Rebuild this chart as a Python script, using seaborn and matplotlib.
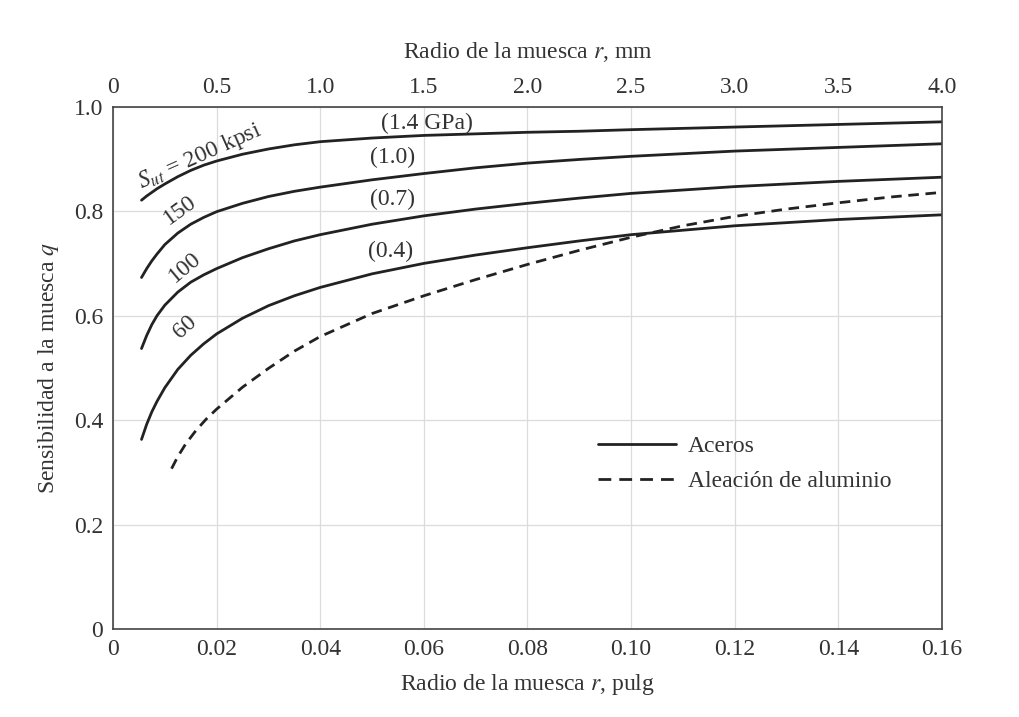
import numpy as np
import pandas as pd
import matplotlib
matplotlib.use("Agg")
import matplotlib.pyplot as plt
import seaborn as sns
from matplotlib.lines import Line2D

# =========================
# DATA
# =========================

r_steel = [0.0055, 0.0065, 0.0075, 0.0085, 0.01, 0.0125, 0.015, 0.0175, 0.02, 0.025, 0.03,
           0.035, 0.04, 0.05, 0.06, 0.07, 0.08, 0.09, 0.10, 0.12, 0.14, 0.16]

q_200 = [0.821, 0.829, 0.836, 0.843, 0.852, 0.866, 0.878, 0.888, 0.896, 0.909, 0.919,
         0.927, 0.933, 0.940, 0.945, 0.948, 0.951, 0.953, 0.956, 0.961, 0.966, 0.971]

q_150 = [0.673, 0.690, 0.705, 0.718, 0.736, 0.758, 0.775, 0.788, 0.799, 0.815, 0.828,
         0.838, 0.846, 0.860, 0.872, 0.883, 0.892, 0.899, 0.905, 0.915, 0.922, 0.929]

q_100 = [0.537, 0.562, 0.583, 0.600, 0.620, 0.645, 0.664, 0.678, 0.690, 0.711, 0.728,
         0.743, 0.755, 0.775, 0.791, 0.804, 0.815, 0.825, 0.834, 0.847, 0.857, 0.865]

q_60 = [0.363, 0.392, 0.416, 0.436, 0.462, 0.497, 0.524, 0.546, 0.565, 0.595, 0.619,
        0.638, 0.654, 0.680, 0.700, 0.716, 0.730, 0.743, 0.755, 0.772, 0.784, 0.793]

r_al = [0.0113, 0.0125, 0.014, 0.016, 0.018, 0.02, 0.025, 0.03, 0.035, 0.04, 0.05,
        0.06, 0.07, 0.08, 0.09, 0.10, 0.11, 0.12, 0.13, 0.14, 0.15, 0.16]
q_al = [0.307, 0.330, 0.354, 0.380, 0.402, 0.421, 0.463, 0.499, 0.532, 0.560, 0.604,
        0.638, 0.669, 0.698, 0.725, 0.750, 0.772, 0.790, 0.804, 0.816, 0.827, 0.836]

x_ticks_in = [0, 0.02, 0.04, 0.06, 0.08, 0.10, 0.12, 0.14, 0.16]
x_labels_in = ["0", "0.02", "0.04", "0.06", "0.08", "0.10", "0.12", "0.14", "0.16"]
x_ticks_mm = [0, 0.5, 1.0, 1.5, 2.0, 2.5, 3.0, 3.5, 4.0]
x_labels_mm = ["0", "0.5", "1.0", "1.5", "2.0", "2.5", "3.0", "3.5", "4.0"]
y_ticks = [0, 0.2, 0.4, 0.6, 0.8, 1.0]
y_labels = ["0", "0.2", "0.4", "0.6", "0.8", "1.0"]

frames = []
for name, mat, r, q in [
    ("200", "Aceros", r_steel, q_200),
    ("150", "Aceros", r_steel, q_150),
    ("100", "Aceros", r_steel, q_100),
    ("60", "Aceros", r_steel, q_60),
    ("al", "Aleación de aluminio", r_al, q_al),
]:
    frames.append(pd.DataFrame({"r": r, "q": q, "curve": name, "material": mat}))
df = pd.concat(frames, ignore_index=True)

# =========================
# PLOT
# =========================

sns.set_style("white")
plt.rcParams["font.family"] = ["Liberation Serif", "DejaVu Serif"]
plt.rcParams["mathtext.fontset"] = "stix"

FS = 17
txt = "#333333"
ink = "#222222"

fig = plt.figure(figsize=(10.2, 7.17), dpi=100)
ax = fig.add_axes([0.1108, 0.1227, 0.8127, 0.7285])

sns.lineplot(
    data=df, x="r", y="q", units="curve", style="material",
    dashes={"Aceros": "", "Aleación de aluminio": (3.8, 2.4)},
    estimator=None, sort=False, color=ink, linewidth=2.0,
    legend=False, ax=ax
)

ax.set_xlim(0, 0.16)
ax.set_ylim(0, 1.0)
ax.set_xticks(x_ticks_in)
ax.set_xticklabels(x_labels_in)
ax.set_yticks(y_ticks)
ax.set_yticklabels(y_labels)
ax.tick_params(length=0, labelsize=FS, pad=7, colors=txt)
ax.grid(True, color="#dcdcdc", linewidth=0.9)
for s in ax.spines.values():
    s.set_color("#444444")
    s.set_linewidth(1.2)

ax.set_xlabel("Radio de la muesca $r$, pulg", fontsize=FS, color=txt, labelpad=9)
ax.set_ylabel("Sensibilidad a la muesca $q$", fontsize=FS, color=txt, labelpad=9)

ax2 = ax.twiny()
ax2.set_xlim(0, 4.0)
ax2.set_xticks(x_ticks_mm)
ax2.set_xticklabels(x_labels_mm)
ax2.tick_params(length=0, labelsize=FS, pad=6, colors=txt)
ax2.set_xlabel("Radio de la muesca $r$, mm", fontsize=FS, color=txt, labelpad=14)
for s in ax2.spines.values():
    s.set_visible(False)

# curve labels
tk = dict(fontsize=FS, color=txt, ha="center", va="center")
ax.text(0.0168, 0.905, "$S_{ut}$ = 200 kpsi", rotation=24, **tk)
ax.text(0.0605, 0.968, "(1.4 GPa)", **tk)
ax.text(0.0540, 0.903, "(1.0)", **tk)
ax.text(0.0130, 0.802, "150", rotation=36, **tk)
ax.text(0.0540, 0.822, "(0.7)", **tk)
ax.text(0.0138, 0.692, "100", rotation=40, **tk)
ax.text(0.0535, 0.722, "(0.4)", **tk)
ax.text(0.0140, 0.578, "60", rotation=42, **tk)

handles = [
    Line2D([], [], color=ink, linewidth=2.0),
    Line2D([], [], color=ink, linewidth=2.0, dashes=(4.6, 2.9)),
]
ax.legend(handles, ["Aceros", "Aleación de aluminio"], loc="center left",
          bbox_to_anchor=(0.565, 0.316), frameon=False, fontsize=FS,
          handlelength=3.3, handletextpad=0.5, labelspacing=0.55,
          borderaxespad=0.3, labelcolor=txt)

plt.savefig("out.png", dpi=100)
